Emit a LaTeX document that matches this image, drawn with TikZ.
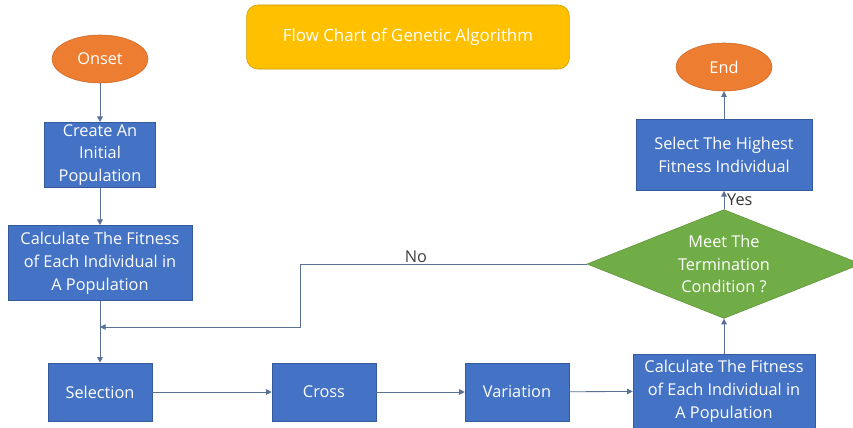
\documentclass[tikz,border=0pt]{standalone}
\usepackage{fontspec}
\setmainfont{Open Sans}
\usetikzlibrary{shapes.geometric,arrows.meta}
\definecolor{gaorange}{HTML}{ED7D31}
\definecolor{gayellow}{HTML}{FFC000}
\definecolor{gablue}{HTML}{4472C4}
\definecolor{gagreen}{HTML}{70AD47}
\definecolor{galine}{HTML}{5A7196}

\begin{document}
\begin{tikzpicture}[x=0.025cm, y=-0.025cm, font=\fontsize{11.6}{16.2}\selectfont,
  arr/.style={draw=galine, line width=0.6pt, -{Triangle[length=4pt,width=4pt]}}]
\tikzstyle{bx}=[rectangle, fill=gablue, draw=gablue!80!black, line width=0.4pt, text=white, align=center, inner sep=1pt]
\tikzstyle{el}=[ellipse, fill=gaorange, draw=gaorange!85!black, line width=0.4pt, text=white, minimum width=2.4cm, minimum height=1.2cm]
\useasboundingbox (0,0) rectangle (853,427);
\node[rectangle, rounded corners=8pt, fill=gayellow, draw=gayellow!80!black, line width=0.4pt, text=white,
      minimum width=8.07cm, minimum height=1.6cm, font=\fontsize{12}{14}\selectfont] (title) at (408,37) {Flow Chart of Genetic Algorithm};
\node[el] (onset) at (100,59)  {Onset};
\node[bx, minimum width=2.78cm, minimum height=1.63cm] (init)  at (100,155) {Create An\\Initial\\Population};
\node[bx, minimum width=4.6cm,  minimum height=1.88cm] (fit1)  at (100,263) {Calculate The Fitness\\of Each Individual in\\A Population};
\node[bx, minimum width=2.6cm,  minimum height=1.45cm] (sel)   at (100,392) {Selection};
\node[bx, minimum width=2.6cm,  minimum height=1.45cm] (cross) at (324,392) {Cross};
\node[bx, minimum width=2.6cm,  minimum height=1.45cm] (var)   at (517,392) {Variation};
\node[bx, minimum width=4.55cm, minimum height=1.85cm] (fit2)  at (724,391) {Calculate The Fitness\\of Each Individual in\\A Population};
\node[diamond, aspect=2.5, fill=gagreen, draw=gagreen!85!black, line width=0.4pt, text=white, align=center,
      inner sep=0pt, minimum width=6.85cm, minimum height=2.72cm] (cond) at (724,264) {Meet The\\Termination\\Condition ?};
\node[bx, minimum width=4.4cm,  minimum height=1.78cm] (best)  at (724,155) {Select The Highest\\Fitness Individual};
\node[el] (stop) at (724,67) {End};
\coordinate (j) at (300,327);
\coordinate (m) at (100,327);
\path[arr] (onset) -- (init);
\path[arr] (init) -- (fit1);
\path[arr] (fit1) -- (sel);
\path[arr] (sel) -- (cross);
\path[arr] (cross) -- (var);
\path[arr] (var) -- (fit2);
\path[arr] (fit2) -- (cond);
\path[arr] (cond) -- node[right, text=black!80, inner sep=2pt] {Yes} (best);
\path[arr] (best) -- (stop);
\path[arr] (cond.west) -| (j) -- (m);
\node[text=black!75] (no) at (416,257) {No};
\end{tikzpicture}
\end{document}
